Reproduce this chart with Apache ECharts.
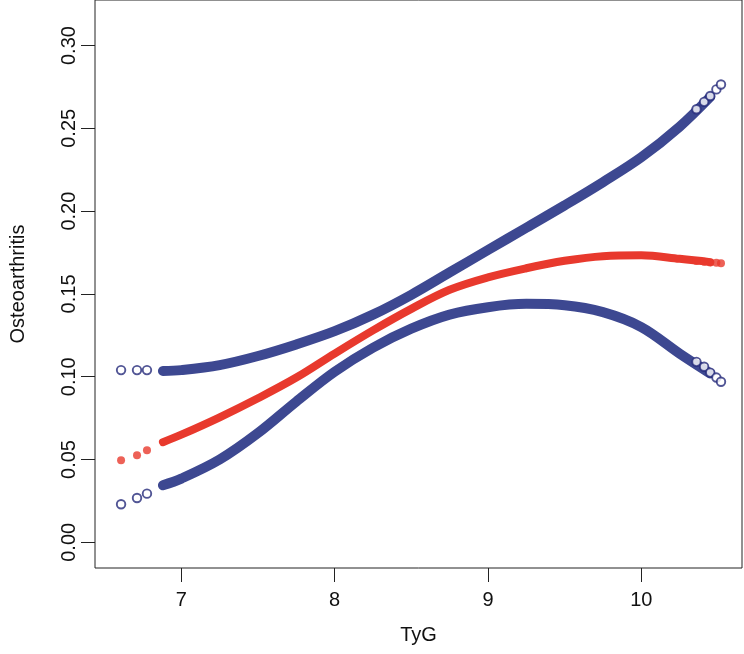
<!DOCTYPE html>
<html>
<head>
<meta charset="utf-8">
<script src="https://cdn.jsdelivr.net/npm/echarts@6/dist/echarts.min.js"></script>
<style>html,body{margin:0;padding:0;background:#fff}#c{width:744px;height:654px}</style>
</head>
<body>
<div id="c"></div>
<script>
// TyG values where the fitted curve is dense
var tygDense = [6.88, 7.0, 7.25, 7.5, 7.75, 8.0, 8.25, 8.5, 8.75, 9.0, 9.25, 9.5, 9.75, 10.0, 10.25, 10.45];
var upperDense = [0.1035, 0.1040, 0.1070, 0.1125, 0.1195, 0.1275, 0.1375, 0.1495, 0.1630, 0.1765, 0.1900, 0.2035, 0.2175, 0.2325, 0.2510, 0.2690];
var fitDense   = [0.0605, 0.0650, 0.0755, 0.0870, 0.0995, 0.1140, 0.1280, 0.1410, 0.1525, 0.1600, 0.1655, 0.1700, 0.1728, 0.1733, 0.1712, 0.1692];
var lowerDense = [0.0345, 0.0385, 0.0500, 0.0660, 0.0850, 0.1030, 0.1175, 0.1290, 0.1375, 0.1420, 0.1440, 0.1432, 0.1390, 0.1300, 0.1140, 0.1020];
// sparse observations at the left end
var tygLeft = [6.607, 6.711, 6.776];
var upperLeft = [0.104, 0.104, 0.104];
var fitLeft = [0.0496, 0.0526, 0.0556];
var lowerLeft = [0.0230, 0.0268, 0.0294];
// sparse observations at the right end
var tygRight = [10.36, 10.41, 10.45, 10.49, 10.52];
var upperRight = [0.2615, 0.2660, 0.2695, 0.2735, 0.2765];
var fitRight = [0.1699, 0.1694, 0.1690, 0.1688, 0.1686];
var lowerRight = [0.1090, 0.1060, 0.1025, 0.0995, 0.0970];
// tick labels
var xTicks = [7, 8, 9, 10];
var yTicks = [0, 0.05, 0.10, 0.15, 0.20, 0.25, 0.30];

function pairs(xs, ys) { return xs.map(function (x, i) { return [x, ys[i]]; }); }

var BLUE = '#3d4891', NAVY = '#252b7a', RED = '#e8392d';
var FONT = 'Liberation Sans, Arial, sans-serif';

var chart = echarts.init(document.getElementById('c'), null, {renderer: 'canvas'});
function band(data, color, w) {
  return {type: 'line', data: data, smooth: 0.35, showSymbol: false, symbol: 'none', silent: true,
    lineStyle: {color: color, width: w, cap: 'round', join: 'round'}, z: 2};
}
function circles(data) {
  return {type: 'scatter', data: data, symbol: 'circle', symbolSize: 8.5, silent: true,
    itemStyle: {color: '#ffffff', borderColor: NAVY, borderWidth: 1.9}, z: 3};
}
function dots(data) {
  return {type: 'scatter', data: data, symbol: 'circle', symbolSize: 8, silent: true,
    itemStyle: {color: RED}, z: 3};
}
chart.setOption({
  animation: false,
  backgroundColor: '#fff',
  grid: {left: 95, right: 2, top: 0, bottom: 86, show: true, borderColor: '#222', borderWidth: 1, containLabel: false},
  xAxis: {
    type: 'value', min: 6.437, max: 10.657,
    name: 'TyG', nameLocation: 'middle', nameGap: 57,
    nameTextStyle: {fontFamily: FONT, fontSize: 20, color: '#111'},
    axisLine: {show: false, onZero: false}, splitLine: {show: false},
    axisTick: {show: true, length: 14, inside: false, customValues: xTicks, lineStyle: {color: '#222', width: 1}},
    axisLabel: {customValues: xTicks, margin: 22, fontFamily: FONT, fontSize: 20, color: '#111',
      formatter: function (v) { return String(Math.round(v)); }}
  },
  yAxis: {
    type: 'value', min: -0.0155, max: 0.3275,
    name: 'Osteoarthritis', nameLocation: 'middle', nameGap: 67, nameRotate: 90,
    nameTextStyle: {fontFamily: FONT, fontSize: 20, color: '#111'},
    axisLine: {show: false, onZero: false}, splitLine: {show: false},
    axisTick: {show: true, length: 14, inside: false, customValues: yTicks, lineStyle: {color: '#222', width: 1}},
    axisLabel: {customValues: yTicks, rotate: 90, margin: 16, fontFamily: FONT, fontSize: 20, color: '#111',
      formatter: function (v) { return v.toFixed(2); }}
  },
  series: [
    band(pairs(tygDense, upperDense), BLUE, 10),
    band(pairs(tygDense, lowerDense), BLUE, 10),
    band(pairs(tygDense, fitDense), RED, 8),
    circles(pairs(tygLeft, upperLeft)),
    circles(pairs(tygLeft, lowerLeft)),
    dots(pairs(tygLeft, fitLeft)),
    circles(pairs(tygRight, upperRight)),
    circles(pairs(tygRight, lowerRight)),
    dots(pairs(tygRight, fitRight))
  ]
});
</script>
</body>
</html>
